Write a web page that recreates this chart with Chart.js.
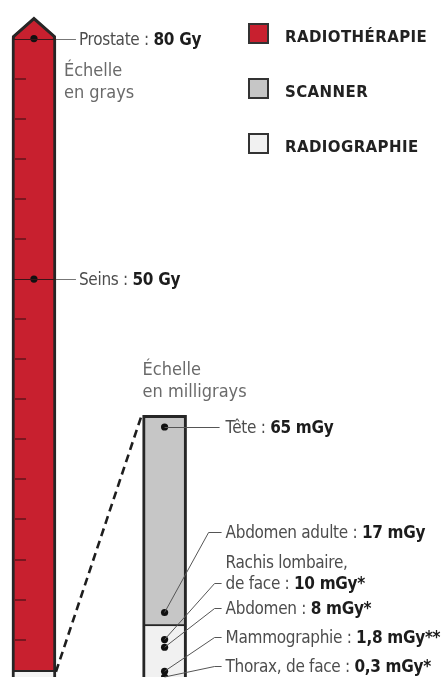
<!DOCTYPE html>
<html lang="fr">
<head>
<meta charset="utf-8">
<script src="https://cdn.jsdelivr.net/npm/chart.js@4.4.1/dist/chart.umd.min.js"></script>
<style>
  html, body { margin: 0; padding: 0; background: #fff; }
  #wrap { position: relative; width: 448px; height: 681px; overflow: hidden;
          font-family: "Liberation Sans Narrow", "DejaVu Sans Condensed", sans-serif; }
  #chart { position: absolute; left: 0; top: 0; }
  .lbl { position: absolute; white-space: nowrap; font-size: 17px; line-height: 20px;
         letter-spacing: -0.3px; color: #4d4d4d; transform: translateY(-50%); }
  .lbl b { color: #1c1c1c; }
  .note { position: absolute; font-size: 18px; line-height: 22px; color: #6a6a6a; white-space: nowrap; }
  .leg { position: absolute; left: 248px; height: 21px; }
  .leg i { position: absolute; left: 0; top: 0; width: 17px; height: 17px; border: 2px solid #333; }
  .leg span { position: absolute; left: 37px; top: 6px; font-family: "DejaVu Sans", sans-serif;
              font-weight: bold; font-size: 15px; letter-spacing: 0.4px; line-height: 16px;
              color: #222; white-space: nowrap; }
</style>
</head>
<body>
<div id="wrap">
  <canvas id="chart" width="448" height="681"></canvas>
</div>
<script>
// catégories (légende) et couleurs
const categories = ['RADIOTHÉRAPIE', 'SCANNER', 'RADIOGRAPHIE'];
const catColors = ['#c8202f', '#c6c6c6', '#f1f1f1'];

// échelle en grays : radiothérapie
const gyExams = ['Prostate', 'Seins'];
const gyDoses = [80, 50];
const gyTicks = [5, 10, 15, 20, 25, 30, 35, 40, 45, 55, 60, 65, 70, 75];
const radiotherapieRange = [1, 80];   // Gy
const zoomRange = [0, 1];             // Gy, zone agrandie à droite

// échelle en milligrays : scanner et radiographie
const mgyExams = ['Tête', 'Abdomen adulte', 'Rachis lombaire,\nde face', 'Abdomen', 'Mammographie', 'Thorax, de face'];
const mgyDoses = [65, 17, 10, 8, 1.8, 0.3];
const mgyMarks = ['', '', '*', '*', '**', '*'];
const scannerRange = [13.5, 68];      // mGy
const radiographieRange = [0, 13.5];  // mGy

// mise en page
const W = 448, H = 681;
const BAR_W = 44;
const X_GY = 30.5, X_MGY = 163.5;
const GY_PX = 8.11, GY_ZERO = 683.8;     // pixels par Gy, position du zéro
const MGY_PX = 3.91, MGY_ZERO = 682.2;   // pixels par mGy
const LABEL_ROWS = [null, 532, 583, 608, 637, 666];
const LINE_GAP = 21.5;
const TIP_H = 21, SHOULDER = 2;

const wrap = document.getElementById('wrap');
const fmt = v => String(v).replace('.', ',');

function bar(label, x, range, axis, color, border) {
    return {
        type: 'bar', label: label, yAxisID: axis, order: 2,
        data: [{ x: x, y: range }],
        backgroundColor: color, borderColor: '#262626',
        borderWidth: border, borderSkipped: false
    };
}

const chart = new Chart(document.getElementById('chart'), {
    type: 'bar',
    data: {
        datasets: [
            {
                type: 'scatter', label: 'doses Gy', yAxisID: 'gy', order: 0,
                data: gyDoses.map(v => ({ x: X_GY, y: v })),
                pointRadius: 3.6, pointBackgroundColor: '#111', pointBorderWidth: 0
            },
            {
                type: 'scatter', label: 'doses mGy', yAxisID: 'mgy', order: 0,
                data: mgyDoses.map(v => ({ x: X_MGY, y: v })),
                pointRadius: 3.6, pointBackgroundColor: '#111', pointBorderWidth: 0
            },
            bar(categories[0], X_GY, radiotherapieRange, 'gy', catColors[0], { left: 3, right: 3, top: 0, bottom: 2 }),
            bar('zoom', X_GY, zoomRange, 'gy', '#f4f4f4', { left: 3, right: 3, top: 0, bottom: 0 }),
            bar(categories[1], X_MGY, scannerRange, 'mgy', catColors[1], { left: 3, right: 3, top: 3, bottom: 2 }),
            bar(categories[2], X_MGY, radiographieRange, 'mgy', catColors[2], { left: 3, right: 3, top: 0, bottom: 0 })
        ]
    },
    options: {
        responsive: false,
        animation: false,
        layout: { padding: 0 },
        barThickness: BAR_W,
        grouped: false,
        plugins: { legend: { display: false }, tooltip: { enabled: false } },
        scales: {
            x: { type: 'linear', min: 0, max: W, offset: false, display: false },
            gy: { type: 'linear', min: (H - GY_ZERO) / -GY_PX, max: (H - GY_ZERO) / -GY_PX + H / GY_PX, display: false },
            mgy: { type: 'linear', min: (H - MGY_ZERO) / -MGY_PX, max: (H - MGY_ZERO) / -MGY_PX + H / MGY_PX, display: false }
        }
    },
    plugins: [{
        id: 'decor',
        beforeDatasetsDraw(c) {
            // pointe de la flèche au-dessus de la barre rouge
            const el = c.getDatasetMeta(2).data[0];
            const ctx = c.ctx;
            const l = el.x - el.width / 2, r = el.x + el.width / 2;
            const sy = el.y - SHOULDER;
            ctx.save();
            ctx.beginPath();
            ctx.moveTo(l, el.y + 1);
            ctx.lineTo(l, sy);
            ctx.lineTo(el.x, el.y - TIP_H);
            ctx.lineTo(r, sy);
            ctx.lineTo(r, el.y + 1);
            ctx.closePath();
            ctx.fillStyle = catColors[0];
            ctx.fill();
            ctx.beginPath();
            ctx.moveTo(l + 1.5, el.y + 1);
            ctx.lineTo(l + 1.5, sy);
            ctx.lineTo(el.x, el.y - TIP_H + 1);
            ctx.lineTo(r - 1.5, sy);
            ctx.lineTo(r - 1.5, el.y + 1);
            ctx.lineWidth = 3;
            ctx.strokeStyle = '#262626';
            ctx.stroke();
            ctx.restore();
        },
        afterDatasetsDraw(c) {
            const ctx = c.ctx;
            const gy = c.scales.gy, mgy = c.scales.mgy;
            const red = c.getDatasetMeta(2).data[0];
            const grey = c.getDatasetMeta(4).data[0];
            const rl = red.x - red.width / 2, rr = red.x + red.width / 2;
            const gl = grey.x - grey.width / 2, gr = grey.x + grey.width / 2;
            ctx.save();
            // graduations tous les 5 Gy
            ctx.strokeStyle = '#7a1720';
            ctx.lineWidth = 2;
            gyTicks.forEach(t => {
                const y = Math.round(gy.getPixelForValue(t));
                ctx.beginPath();
                ctx.moveTo(rl + 2, y);
                ctx.lineTo(rl + 14, y);
                ctx.stroke();
            });
            // traits de rappel Gy
            ctx.lineWidth = 1;
            gyDoses.forEach(v => {
                const y = Math.round(gy.getPixelForValue(v)) + 0.5;
                ctx.strokeStyle = '#3a1418';
                ctx.beginPath(); ctx.moveTo(rl + 2, y); ctx.lineTo(rr, y); ctx.stroke();
                ctx.strokeStyle = '#777';
                ctx.beginPath(); ctx.moveTo(rr, y); ctx.lineTo(rr + 20, y); ctx.stroke();
            });
            // traits de rappel mGy
            ctx.strokeStyle = '#555';
            mgyDoses.forEach((v, i) => {
                const y = mgy.getPixelForValue(v);
                ctx.beginPath();
                if (LABEL_ROWS[i] === null) {
                    ctx.moveTo(grey.x, Math.round(y) + 0.5);
                    ctx.lineTo(gr + 33, Math.round(y) + 0.5);
                } else {
                    const ex = i === 1 ? gr + 22 : gr + 28;
                    ctx.moveTo(grey.x, y);
                    ctx.lineTo(ex, LABEL_ROWS[i] + 0.5);
                    ctx.lineTo(gr + 35, LABEL_ROWS[i] + 0.5);
                }
                ctx.stroke();
            });
            // ligne pointillée de l'agrandissement
            ctx.strokeStyle = '#1e1e1e';
            ctx.lineWidth = 2.6;
            ctx.setLineDash([8, 5]);
            ctx.beginPath();
            ctx.moveTo(rr, gy.getPixelForValue(zoomRange[1]));
            ctx.lineTo(gl - 1, mgy.getPixelForValue(scannerRange[1]));
            ctx.stroke();
            ctx.restore();
        }
    }]
});

// étiquettes en texte réel, placées avec les échelles du graphique
function addLabel(x, y, name, dose, unit, mark) {
    const lines = name.split('\n');
    lines.forEach((ln, i) => {
        const d = document.createElement('div');
        d.className = 'lbl';
        d.style.left = x + 'px';
        d.style.top = (y - (lines.length - 1 - i) * LINE_GAP) + 'px';
        if (i === lines.length - 1) d.innerHTML = ln + ' : <b>' + fmt(dose) + ' ' + unit + mark + '</b>';
        else d.textContent = ln;
        wrap.appendChild(d);
    });
}

const redEl = chart.getDatasetMeta(2).data[0];
const greyEl = chart.getDatasetMeta(4).data[0];
const redRight = redEl.x + redEl.width / 2;
const greyRight = greyEl.x + greyEl.width / 2;

gyExams.forEach((n, i) => addLabel(redRight + 23, chart.scales.gy.getPixelForValue(gyDoses[i]), n, gyDoses[i], 'Gy', ''));
mgyExams.forEach((n, i) => {
    const y = LABEL_ROWS[i] === null ? chart.scales.mgy.getPixelForValue(mgyDoses[i]) : LABEL_ROWS[i];
    addLabel(greyRight + 39, y, n, mgyDoses[i], 'mGy', mgyMarks[i]);
});

function addNote(x, top, html) {
    const d = document.createElement('div');
    d.className = 'note';
    d.style.left = x + 'px';
    d.style.top = top + 'px';
    d.innerHTML = html;
    wrap.appendChild(d);
}
addNote(redRight + 8, 59, 'Échelle<br>en grays');
addNote(greyEl.x - greyEl.width / 2, 358, 'Échelle<br>en milligrays');

// légende
categories.forEach((c, i) => {
    const d = document.createElement('div');
    d.className = 'leg';
    d.style.top = (23 + i * 55) + 'px';
    d.innerHTML = '<i style="background:' + catColors[i] + '"></i><span>' + c + '</span>';
    wrap.appendChild(d);
});
</script>
</body>
</html>
